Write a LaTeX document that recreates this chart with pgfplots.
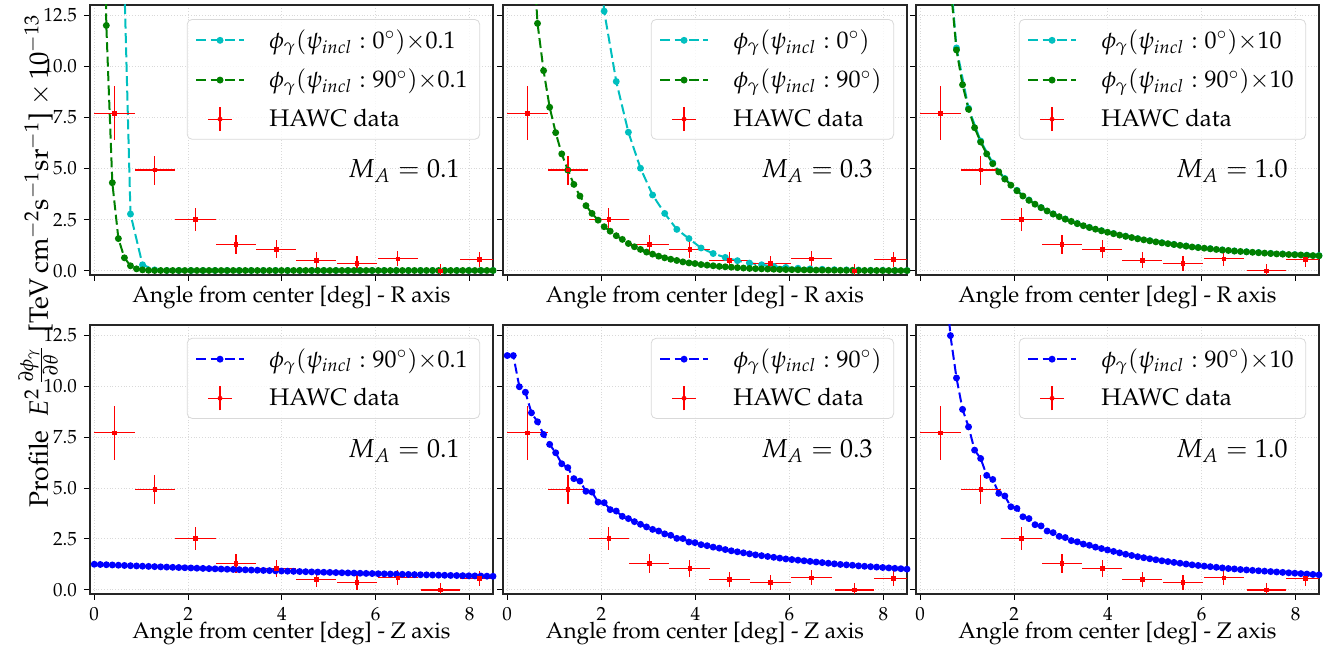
\documentclass[border=0pt]{standalone}
\usepackage[T1]{fontenc}
\usepackage{mathpazo}
\usepackage{pgfplots}
\pgfplotsset{compat=1.18}

\definecolor{mplc}{rgb}{0,0.75,0.75}
\definecolor{mplg}{rgb}{0,0.5,0}
\definecolor{mplb}{rgb}{0,0,1}
\definecolor{mplr}{rgb}{1,0,0}

\tikzset{malab/.style={anchor=east, inner sep=0pt, font=\fontsize{13}{15}\selectfont}}

\pgfplotsset{
  panel/.style={
    scale only axis, anchor=south west,
    width=201.5pt, height=135pt,
    xmin=-0.09, xmax=8.5, ymin=-0.2, ymax=13.0,
    xtick={0,2,4,6,8}, ytick={0,2.5,5,7.5,10,12.5},
    tick pos=left, tick align=outside, major tick length=3pt,
    grid=major, grid style={gray!30, densely dotted, line width=0.5pt},
    axis line style={line width=0.6pt, black!85},
    tick style={black, line width=0.5pt},
    ticklabel style={font=\fontsize{9.5}{11}\selectfont},
    yticklabel style={/pgf/number format/.cd, fixed, fixed zerofill, precision=1},
    x label style={font=\fontsize{11.3}{13}\selectfont, at={(axis description cs:0.5,0)}, anchor=base},
    legend cell align=left,
    legend style={at={(0.968,0.948)}, anchor=north east, draw=black!15, fill=white,
      fill opacity=0.8, text opacity=1, rounded corners=2.5pt,
      font=\fontsize{12}{13.5}\selectfont, inner xsep=4pt, inner ysep=3pt,
      row sep=5pt, nodes={inner sep=2pt}},
  },
  toprow/.style={at={(#1,185.5pt)}, xticklabels={}, x label style={yshift=-14pt},
    xlabel={Angle from center [deg] - R axis}},
  botrow/.style={at={(#1,26pt)}, height=134.5pt, x label style={yshift=-22.5pt},
    xlabel={Angle from center [deg] - Z axis}},
  nolab/.style={yticklabels={}},
  curve/.style={line width=1pt, dash pattern=on 5pt off 2.2pt, mark=*, mark size=1.2pt,
    mark options={solid},
    legend image code/.code={\draw[mark repeat=2,mark phase=2,##1] plot coordinates {(0cm,0cm) (0.42cm,0cm) (0.84cm,0cm)}; \path (1.2cm,0cm);}},
  hawc/.style={only marks, mark=square*, mark size=0.9pt, color=mplr,
    legend image code/.code={\draw[mplr, line width=0.6pt] (0.42cm,-6pt) -- (0.42cm,6pt) (0.42cm-6pt,0pt) -- (0.42cm+6pt,0pt); \fill[mplr] (0.42cm,0pt) circle (1pt); \path (1.2cm,0cm);},
    error bars/.cd, x dir=both, x explicit, y dir=both, y explicit,
    error mark=none, error bar style={line width=0.6pt, mplr, solid}},
}

\newcommand{\hawcdata}{
\addplot[hawc] coordinates {
  (0.43,7.71) +- (0.43,1.33) (1.29,4.93) +- (0.43,0.71) (2.16,2.52) +- (0.43,0.57)
  (3.02,1.29) +- (0.43,0.45) (3.88,1.06) +- (0.43,0.43) (4.73,0.52) +- (0.43,0.38)
  (5.60,0.36) +- (0.43,0.36) (6.47,0.59) +- (0.43,0.37) (7.38,0.00) +- (0.41,0.33)
  (8.21,0.56) +- (0.41,0.35) };
\addlegendentry{HAWC data}
}

\begin{document}
\begin{tikzpicture}
\path[use as bounding box] (0,0) rectangle (662pt,323pt);

% ---------- top row: R axis ----------
\begin{axis}[panel, toprow=45pt, width=201.5pt]
\addplot[curve, mplc] coordinates {
 (0.515,25) (0.773,2.78) (1.030,0.30) (1.288,0.05) (1.546,0.02) (1.803,0.02) (2.061,0.02)
 (2.318,0.02) (2.576,0.02) (2.833,0.02) (3.091,0.02) (3.348,0.02) (3.606,0.02) (3.864,0.02)
 (4.121,0.02) (4.379,0.02) (4.636,0.02) (4.894,0.02) (5.152,0.02) (5.409,0.02) (5.667,0.02)
 (5.924,0.02) (6.182,0.02) (6.439,0.02) (6.697,0.02) (6.955,0.02) (7.212,0.02) (7.470,0.02)
 (7.727,0.02) (7.985,0.02) (8.242,0.02) (8.500,0.02) };
\addlegendentry{$\phi_\gamma(\psi_{incl}:0^{\circ}){\times}0.1$}
\addplot[curve, mplg] coordinates {
 (0.129,33) (0.258,12.0) (0.386,4.31) (0.515,1.58) (0.644,0.64) (0.773,0.25) (0.902,0.10)
 (1.030,0.05) (1.159,0.03) (1.288,0.02) (1.417,0.02) (1.546,0.02) (1.674,0.02) (1.803,0.02)
 (1.932,0.02) (2.061,0.02) (2.189,0.02) (2.318,0.02) (2.447,0.02) (2.576,0.02) (2.705,0.02)
 (2.833,0.02) (2.962,0.02) (3.091,0.02) (3.220,0.02) (3.348,0.02) (3.477,0.02) (3.606,0.02)
 (3.735,0.02) (3.864,0.02) (3.992,0.02) (4.121,0.02) (4.250,0.02) (4.379,0.02) (4.508,0.02)
 (4.636,0.02) (4.765,0.02) (4.894,0.02) (5.023,0.02) (5.152,0.02) (5.280,0.02) (5.409,0.02)
 (5.538,0.02) (5.667,0.02) (5.795,0.02) (5.924,0.02) (6.053,0.02) (6.182,0.02) (6.311,0.02)
 (6.439,0.02) (6.568,0.02) (6.697,0.02) (6.826,0.02) (6.955,0.02) (7.083,0.02) (7.212,0.02)
 (7.341,0.02) (7.470,0.02) (7.598,0.02) (7.727,0.02) (7.856,0.02) (7.985,0.02) (8.114,0.02)
 (8.242,0.02) (8.371,0.02) (8.500,0.02) };
\addlegendentry{$\phi_\gamma(\psi_{incl}:90^{\circ}){\times}0.1$}
\hawcdata
\node[malab] at (rel axis cs:0.918,0.385) {$M_A=0.1$};
\end{axis}

\begin{axis}[panel, toprow=251.5pt, width=202pt, nolab]
\addplot[curve, mplc] coordinates {
 (1.803,20) (2.061,12.7) (2.318,9.26) (2.576,6.78) (2.833,5.02) (3.091,3.71) (3.348,2.81)
 (3.606,2.03) (3.864,1.58) (4.121,1.12) (4.379,0.85) (4.636,0.66) (4.894,0.50) (5.152,0.38)
 (5.409,0.30) (5.667,0.22) (5.924,0.17) (6.182,0.13) (6.439,0.10) (6.697,0.08) (6.955,0.06)
 (7.212,0.05) (7.470,0.04) (7.727,0.03) (7.985,0.03) (8.242,0.02) (8.500,0.02) };
\addlegendentry{$\phi_\gamma(\psi_{incl}:0^{\circ})$}
\addplot[curve, mplg] coordinates {
 (0.515,17) (0.644,12.1) (0.773,9.79) (0.902,8.0) (1.030,6.76) (1.159,5.72) (1.288,4.93)
 (1.417,4.23) (1.546,3.66) (1.674,3.19) (1.803,2.81) (1.932,2.48) (2.061,2.16) (2.189,1.94)
 (2.318,1.72) (2.447,1.54) (2.576,1.34) (2.705,1.18) (2.833,1.05) (2.962,0.92) (3.091,0.82)
 (3.220,0.72) (3.348,0.64) (3.477,0.57) (3.606,0.51) (3.735,0.44) (3.864,0.39) (3.992,0.36)
 (4.121,0.31) (4.250,0.28) (4.379,0.25) (4.508,0.22) (4.636,0.20) (4.765,0.18) (4.894,0.16)
 (5.023,0.14) (5.152,0.12) (5.280,0.11) (5.409,0.10) (5.538,0.09) (5.667,0.08) (5.795,0.07)
 (5.924,0.065) (6.053,0.06) (6.182,0.055) (6.311,0.05) (6.439,0.045) (6.568,0.04) (6.697,0.038)
 (6.826,0.035) (6.955,0.032) (7.083,0.03) (7.212,0.028) (7.341,0.026) (7.470,0.024) (7.598,0.022)
 (7.727,0.02) (7.856,0.019) (7.985,0.018) (8.114,0.017) (8.242,0.016) (8.371,0.015) (8.500,0.014) };
\addlegendentry{$\phi_\gamma(\psi_{incl}:90^{\circ})$}
\hawcdata
\node[malab] at (rel axis cs:0.916,0.385) {$M_A=0.3$};
\end{axis}

\begin{axis}[panel, toprow=458pt, width=201.5pt, nolab]
\addplot[curve, mplc] coordinates {
 (0.515,18) (0.773,10.9) (1.030,7.95) (1.288,6.35) (1.546,5.28) (1.803,4.52) (2.061,3.94)
 (2.318,3.47) (2.576,3.10) (2.833,2.79) (3.091,2.54) (3.348,2.32) (3.606,2.13) (3.864,1.97)
 (4.121,1.83) (4.379,1.70) (4.636,1.58) (4.894,1.48) (5.152,1.38) (5.409,1.30) (5.667,1.22)
 (5.924,1.15) (6.182,1.09) (6.439,1.03) (6.697,0.98) (6.955,0.94) (7.212,0.90) (7.470,0.86)
 (7.727,0.83) (7.985,0.80) (8.242,0.77) (8.500,0.75) };
\addlegendentry{$\phi_\gamma(\psi_{incl}:0^{\circ}){\times}10$}
\addplot[curve, mplg] coordinates {
 (0.515,18) (0.644,14) (0.773,10.8) (0.902,9.1) (1.030,7.9) (1.159,7.0) (1.288,6.3)
 (1.417,5.72) (1.546,5.24) (1.674,4.84) (1.803,4.49) (1.932,4.19) (2.061,3.92) (2.189,3.66)
 (2.318,3.45) (2.447,3.26) (2.576,3.09) (2.705,2.93) (2.833,2.78) (2.962,2.65) (3.091,2.53)
 (3.220,2.42) (3.348,2.31) (3.477,2.21) (3.606,2.12) (3.735,2.04) (3.864,1.96) (3.992,1.89)
 (4.121,1.82) (4.250,1.75) (4.379,1.69) (4.508,1.63) (4.636,1.57) (4.765,1.52) (4.894,1.47)
 (5.023,1.42) (5.152,1.37) (5.280,1.33) (5.409,1.29) (5.538,1.25) (5.667,1.21) (5.795,1.17)
 (5.924,1.14) (6.053,1.11) (6.182,1.08) (6.311,1.05) (6.439,1.02) (6.568,1.00) (6.697,0.97)
 (6.826,0.95) (6.955,0.93) (7.083,0.91) (7.212,0.89) (7.341,0.87) (7.470,0.85) (7.598,0.83)
 (7.727,0.82) (7.856,0.80) (7.985,0.79) (8.114,0.78) (8.242,0.76) (8.371,0.75) (8.500,0.74) };
\addlegendentry{$\phi_\gamma(\psi_{incl}:90^{\circ}){\times}10$}
\hawcdata
\node[malab] at (rel axis cs:0.923,0.385) {$M_A=1.0$};
\end{axis}

% ---------- bottom row: Z axis ----------
\begin{axis}[panel, botrow=45pt, width=201.5pt, legend style={at={(0.968,0.952)}}]
\addplot[curve, mplb] coordinates {
 (0.000,1.260) (0.129,1.248) (0.258,1.236) (0.386,1.224) (0.515,1.212) (0.644,1.200) (0.773,1.188)
 (0.902,1.176) (1.030,1.165) (1.159,1.154) (1.288,1.143) (1.417,1.131) (1.546,1.120) (1.674,1.109)
 (1.803,1.098) (1.932,1.088) (2.061,1.077) (2.189,1.066) (2.318,1.056) (2.447,1.045) (2.576,1.035)
 (2.705,1.025) (2.833,1.015) (2.962,1.005) (3.091,0.995) (3.220,0.985) (3.348,0.975) (3.477,0.966)
 (3.606,0.956) (3.735,0.947) (3.864,0.938) (3.992,0.929) (4.121,0.920) (4.250,0.911) (4.379,0.902)
 (4.508,0.893) (4.636,0.884) (4.765,0.876) (4.894,0.867) (5.023,0.859) (5.152,0.850) (5.280,0.842)
 (5.409,0.834) (5.538,0.826) (5.667,0.818) (5.795,0.810) (5.924,0.803) (6.053,0.795) (6.182,0.788)
 (6.311,0.781) (6.439,0.773) (6.568,0.766) (6.697,0.759) (6.826,0.752) (6.955,0.745) (7.083,0.738)
 (7.212,0.731) (7.341,0.725) (7.470,0.718) (7.598,0.711) (7.727,0.705) (7.856,0.699) (7.985,0.693)
 (8.114,0.687) (8.242,0.681) (8.371,0.675) (8.500,0.670) };
\addlegendentry{$\phi_\gamma(\psi_{incl}:90^{\circ}){\times}0.1$}
\hawcdata
\node[malab] at (rel axis cs:0.918,0.53) {$M_A=0.1$};
\end{axis}

\begin{axis}[panel, botrow=251.5pt, width=202pt, nolab, legend style={at={(0.968,0.952)}}]
\addplot[curve, mplb] coordinates {
 (0.000,11.5) (0.129,11.5) (0.258,9.97) (0.386,9.70) (0.515,8.69) (0.644,8.25) (0.773,7.63)
 (0.902,7.14) (1.030,6.73) (1.159,6.19) (1.288,6.00) (1.417,5.46) (1.546,5.34) (1.674,4.84)
 (1.803,4.80) (1.932,4.31) (2.061,4.28) (2.189,3.94) (2.318,3.87) (2.447,3.61) (2.576,3.50)
 (2.705,3.35) (2.833,3.22) (2.962,3.09) (3.091,2.97) (3.220,2.89) (3.348,2.75) (3.477,2.68)
 (3.606,2.53) (3.735,2.52) (3.864,2.35) (3.992,2.32) (4.121,2.22) (4.250,2.17) (4.379,2.10)
 (4.508,2.05) (4.636,1.98) (4.765,1.92) (4.894,1.87) (5.023,1.82) (5.152,1.77) (5.280,1.72)
 (5.409,1.68) (5.538,1.64) (5.667,1.60) (5.795,1.56) (5.924,1.52) (6.053,1.49) (6.182,1.46)
 (6.311,1.43) (6.439,1.40) (6.568,1.37) (6.697,1.34) (6.826,1.31) (6.955,1.28) (7.083,1.25)
 (7.212,1.23) (7.341,1.21) (7.470,1.18) (7.598,1.16) (7.727,1.14) (7.856,1.12) (7.985,1.10)
 (8.114,1.08) (8.242,1.06) (8.371,1.04) (8.500,1.02) };
\addlegendentry{$\phi_\gamma(\psi_{incl}:90^{\circ})$}
\hawcdata
\node[malab] at (rel axis cs:0.916,0.53) {$M_A=0.3$};
\end{axis}

\begin{axis}[panel, botrow=458pt, width=201.5pt, nolab, legend style={at={(0.968,0.952)}}]
\addplot[curve, mplb] coordinates {
 (0.515,16) (0.644,12.48) (0.773,10.4) (0.902,8.86) (1.030,8.0) (1.159,6.86) (1.288,6.45)
 (1.417,5.62) (1.546,5.42) (1.674,4.74) (1.803,4.61) (1.932,4.08) (2.061,4.00) (2.189,3.59)
 (2.318,3.50) (2.447,3.20) (2.576,3.14) (2.705,2.89) (2.833,2.81) (2.962,2.63) (3.091,2.57)
 (3.220,2.42) (3.348,2.36) (3.477,2.25) (3.606,2.19) (3.735,2.10) (3.864,2.03) (3.992,1.96)
 (4.121,1.89) (4.250,1.82) (4.379,1.75) (4.508,1.69) (4.636,1.63) (4.765,1.58) (4.894,1.53)
 (5.023,1.48) (5.152,1.43) (5.280,1.39) (5.409,1.35) (5.538,1.31) (5.667,1.27) (5.795,1.23)
 (5.924,1.20) (6.053,1.17) (6.182,1.14) (6.311,1.11) (6.439,1.08) (6.568,1.05) (6.697,1.03)
 (6.826,1.00) (6.955,0.98) (7.083,0.96) (7.212,0.94) (7.341,0.92) (7.470,0.90) (7.598,0.88)
 (7.727,0.86) (7.856,0.84) (7.985,0.82) (8.114,0.80) (8.242,0.78) (8.371,0.76) (8.500,0.74) };
\addlegendentry{$\phi_\gamma(\psi_{incl}:90^{\circ}){\times}10$}
\hawcdata
\node[malab] at (rel axis cs:0.923,0.53) {$M_A=1.0$};
\end{axis}

\node[rotate=90, anchor=base, font=\fontsize{13.3}{15}\selectfont] at (24pt,192.5pt)
  {Profile \ $E^2\,\frac{\partial\phi_\gamma}{\partial\theta}$ \ [TeV$\,$cm$^{-2}$s$^{-1}$sr$^{-1}$] $\times\,10^{-13}$};
\end{tikzpicture}
\end{document}
